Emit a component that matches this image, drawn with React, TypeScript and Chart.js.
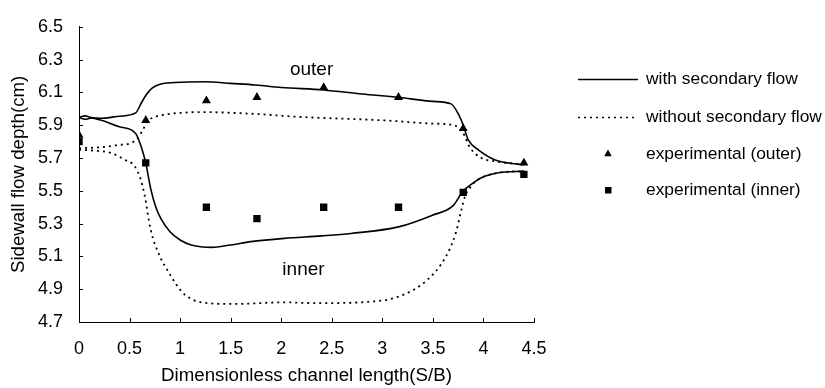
import { useEffect, useRef } from "react";
import { Chart, registerables } from "chart.js";

Chart.register(...registerables);

const FONT = "'Liberation Sans', Arial, Helvetica, sans-serif";

// Axis ticks
const X_TICKS = [0, 0.5, 1, 1.5, 2, 2.5, 3, 3.5, 4, 4.5];
const Y_TICKS = [4.7, 4.9, 5.1, 5.3, 5.5, 5.7, 5.9, 6.1, 6.3, 6.5];

// Computed sidewall depth, with secondary flow — outer wall
const withOuterX = [0, 0.06, 0.12, 0.22, 0.4, 0.56, 0.62, 0.67, 0.72, 0.8, 0.95, 1.25, 1.5, 1.75, 2.0, 2.42, 2.8, 3.16, 3.5, 3.68, 3.75, 3.8, 3.85, 3.95, 4.11, 4.3, 4.4];
const withOuterY = [5.947, 5.957, 5.946, 5.942, 5.955, 5.975, 6.04, 6.09, 6.125, 6.15, 6.16, 6.165, 6.155, 6.145, 6.13, 6.115, 6.09, 6.07, 6.045, 6.03, 5.97, 5.9, 5.81, 5.75, 5.69, 5.665, 5.66];

// Computed sidewall depth, with secondary flow — inner wall
const withInnerX = [0, 0.06, 0.12, 0.22, 0.4, 0.56, 0.62, 0.66, 0.71, 0.76, 0.81, 0.9, 1.0, 1.11, 1.31, 1.5, 1.7, 2.03, 2.4, 2.69, 3.16, 3.49, 3.7, 3.8, 3.86, 3.98, 4.15, 4.4];
const withInnerY = [5.947, 5.936, 5.944, 5.93, 5.89, 5.85, 5.76, 5.67, 5.51, 5.4, 5.33, 5.25, 5.2, 5.17, 5.155, 5.17, 5.19, 5.21, 5.225, 5.24, 5.28, 5.35, 5.41, 5.5, 5.53, 5.58, 5.61, 5.62];

// Computed sidewall depth, without secondary flow — outer wall
const withoutOuterX = [0, 0.2, 0.4, 0.51, 0.58, 0.63, 0.68, 0.75, 0.85, 1.0, 1.21, 1.7, 2.2, 3.0, 3.5, 3.71, 3.76, 3.81, 3.86, 3.98, 4.11, 4.4];
const withoutOuterY = [5.76, 5.765, 5.78, 5.79, 5.82, 5.87, 5.925, 5.95, 5.965, 5.975, 5.98, 5.97, 5.95, 5.93, 5.91, 5.9, 5.88, 5.84, 5.77, 5.7, 5.68, 5.66];

// Computed sidewall depth, without secondary flow — inner wall
const withoutInnerX = [0, 0.15, 0.32, 0.45, 0.55, 0.61, 0.65, 0.71, 0.8, 0.88, 0.96, 1.04, 1.21, 1.53, 2.03, 2.33, 2.99, 3.32, 3.45, 3.58, 3.67, 3.73, 3.78, 3.82, 3.88, 3.95, 4.15, 4.4];
const withoutInnerY = [5.75, 5.745, 5.73, 5.69, 5.65, 5.57, 5.47, 5.26, 5.1, 5.01, 4.93, 4.87, 4.82, 4.81, 4.82, 4.815, 4.83, 4.9, 4.96, 5.05, 5.15, 5.25, 5.38, 5.47, 5.53, 5.57, 5.61, 5.62];

// Measured depths
const expX = [0, 0.66, 1.26, 1.76, 2.42, 3.16, 3.8, 4.4];
const expOuterY = [5.84, 5.93, 6.05, 6.07, 6.13, 6.07, 5.88, 5.67];
const expInnerY = [5.8, 5.67, 5.4, 5.33, 5.4, 5.4, 5.49, 5.6];

// Curve labels placed in data space
const curveLabels = [
  { text: "outer", x: 2.3, y: 6.24 },
  { text: "inner", x: 2.22, y: 5.02 },
];

const legendItems = [
  { text: "with secondary flow", kind: "solid" },
  { text: "without secondary flow", kind: "dotted" },
  { text: "experimental (outer)", kind: "triangle" },
  { text: "experimental (inner)", kind: "square" },
];

const zip = (xs: number[], ys: number[]) => xs.map((x, i) => ({ x, y: ys[i] }));

const curve = (xs: number[], ys: number[], dotted: boolean) => ({
  data: zip(xs, ys),
  showLine: true,
  borderColor: "#000",
  borderWidth: dotted ? 1.8 : 1.6,
  borderDash: dotted ? [2, 4] : [],
  pointRadius: 0,
  pointHoverRadius: 0,
  cubicInterpolationMode: "monotone" as const,
  fill: false,
});

const markers = (ys: number[], style: "triangle" | "rect", r: number) => ({
  data: zip(expX, ys),
  showLine: false,
  pointStyle: style,
  pointRadius: r,
  pointHoverRadius: r,
  pointBackgroundColor: "#000",
  pointBorderColor: "#000",
  pointBorderWidth: 0,
});

const decorPlugin = {
  id: "decor",
  afterDatasetsDraw(chart: any) {
    const { ctx, chartArea, scales } = chart;
    const xs = scales.x;
    const ys = scales.y;
    ctx.save();
    // inward ticks
    ctx.strokeStyle = "#000";
    ctx.lineWidth = 1;
    ctx.beginPath();
    X_TICKS.forEach((v) => {
      const px = Math.round(xs.getPixelForValue(v)) + 0.5;
      ctx.moveTo(px, chartArea.bottom);
      ctx.lineTo(px, chartArea.bottom - 4);
    });
    Y_TICKS.forEach((v) => {
      const py = Math.round(ys.getPixelForValue(v)) + 0.5;
      ctx.moveTo(chartArea.left, py);
      ctx.lineTo(chartArea.left + 4, py);
    });
    ctx.stroke();

    // curve labels
    ctx.fillStyle = "#000";
    ctx.font = `19px ${FONT}`;
    ctx.textAlign = "center";
    ctx.textBaseline = "middle";
    curveLabels.forEach((l) => {
      ctx.fillText(l.text, xs.getPixelForValue(l.x), ys.getPixelForValue(l.y));
    });

    // legend
    const rowY = [79, 117, 154, 190];
    ctx.textAlign = "left";
    ctx.font = `17.4px ${FONT}`;
    legendItems.forEach((item, i) => {
      const y = rowY[i];
      if (item.kind === "solid") {
        ctx.setLineDash([]);
        ctx.lineWidth = 1.6;
        ctx.beginPath();
        ctx.moveTo(578, y + 0.5);
        ctx.lineTo(638, y + 0.5);
        ctx.stroke();
      } else if (item.kind === "dotted") {
        ctx.setLineDash([2, 4]);
        ctx.lineWidth = 1.6;
        ctx.beginPath();
        ctx.moveTo(578, y + 0.5);
        ctx.lineTo(634, y + 0.5);
        ctx.stroke();
        ctx.setLineDash([]);
      } else if (item.kind === "triangle") {
        const r = 4.4;
        ctx.beginPath();
        ctx.moveTo(608, y - r);
        ctx.lineTo(608 + r * 0.866, y + r / 2);
        ctx.lineTo(608 - r * 0.866, y + r / 2);
        ctx.closePath();
        ctx.fill();
      } else {
        ctx.fillRect(605, y - 3, 6.5, 6.5);
      }
      ctx.fillText(item.text, 646, y);
    });
    ctx.restore();
  },
};

export default function App() {
  const ref = useRef<HTMLCanvasElement | null>(null);

  useEffect(() => {
    if (!ref.current) return;
    const chart = new Chart(ref.current, {
      type: "scatter",
      data: {
        datasets: [
          curve(withOuterX, withOuterY, false),
          curve(withInnerX, withInnerY, false),
          curve(withoutOuterX, withoutOuterY, true),
          curve(withoutInnerX, withoutInnerY, true),
          markers(expOuterY, "triangle", 5.2),
          markers(expInnerY, "rect", 5.2),
        ] as any,
      },
      options: {
        responsive: false,
        animation: false,
        events: [],
        layout: { padding: { left: 0, top: 23, right: 291, bottom: 0 } },
        plugins: {
          legend: { display: false },
          tooltip: { enabled: false },
        },
        scales: {
          x: {
            type: "linear",
            min: 0,
            max: 4.5,
            afterBuildTicks: (s: any) => {
              s.ticks = X_TICKS.map((value) => ({ value }));
            },
            afterFit: (s: any) => {
              s.height = 66;
            },
            grid: { display: false, drawTicks: false },
            border: { display: true, color: "#000", width: 1 },
            ticks: {
              color: "#000",
              font: { family: FONT, size: 18 },
              padding: 16,
              maxRotation: 0,
              autoSkip: false,
              callback: (v: any) => String(Number(v)),
            },
            title: {
              display: true,
              text: "Dimensionless channel length(S/B)",
              color: "#000",
              font: { family: FONT, size: 18.7 },
              padding: { top: 0, bottom: 1 },
            },
          },
          y: {
            type: "linear",
            min: 4.7,
            max: 6.5,
            afterBuildTicks: (s: any) => {
              s.ticks = Y_TICKS.map((value) => ({ value }));
            },
            afterFit: (s: any) => {
              s.width = 79;
            },
            grid: { display: false, drawTicks: false },
            border: { display: true, color: "#000", width: 1 },
            ticks: {
              color: "#000",
              font: { family: FONT, size: 18 },
              padding: 16,
              autoSkip: false,
              callback: (v: any) => Number(v).toFixed(1),
            },
            title: {
              display: true,
              text: "Sidewall flow depth(cm)",
              color: "#000",
              font: { family: FONT, size: 18.7 },
              padding: { top: 8, bottom: 0 },
            },
          },
        },
      },
      plugins: [decorPlugin],
    });
    return () => chart.destroy();
  }, []);

  return (
    <div style={{ position: "fixed", left: 0, top: 0, width: 825, height: 388, background: "#fff" }}>
      <canvas ref={ref} width={825} height={388} style={{ width: 825, height: 388, display: "block" }} />
    </div>
  );
}
